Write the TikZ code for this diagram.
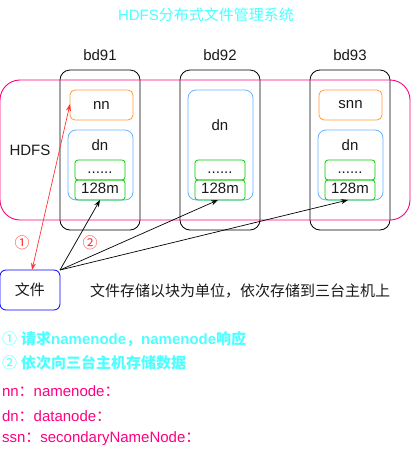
\documentclass[tikz,border=0pt]{standalone}
\usepackage{fontspec}
\setmainfont{Liberation Sans}
\newfontfamily\cjk{Noto Sans CJK SC}
\usetikzlibrary{arrows.meta}
\definecolor{cyantxt}{HTML}{4DFFFF}
\definecolor{pinkc}{HTML}{FF0080}
\definecolor{orangec}{HTML}{FF9933}
\definecolor{bluec}{HTML}{66B2FF}
\definecolor{greenc}{HTML}{00CC00}
\definecolor{filec}{HTML}{0000FF}
\definecolor{redc}{HTML}{FF3333}
\definecolor{txtc}{HTML}{1A1A1A}
\begin{document}
\begin{tikzpicture}[x=1pt,y=-1pt,
  font=\fontsize{15}{18}\selectfont,
  every node/.style={inner sep=0pt, outer sep=0pt, text=txtc},
  hostbox/.style={draw=black, line width=0.8pt, rounded corners=10pt, minimum width=80pt, minimum height=160pt},
  hdfsbox/.style={draw=pinkc, line width=0.9pt, rounded corners=20pt, minimum width=410pt, minimum height=140pt},
  nnbox/.style={draw=orangec, line width=0.8pt, rounded corners=5pt, minimum width=63pt, minimum height=30pt},
  dnbox/.style={draw=bluec, line width=0.8pt, rounded corners=8pt, minimum width=65pt},
  blkbox/.style={draw=greenc, line width=0.8pt, rounded corners=3pt, minimum width=50pt, minimum height=20pt, text height=10.5pt, text depth=3pt},
  filebox/.style={draw=filec, line width=0.8pt, rounded corners=6pt, minimum width=60pt, minimum height=40pt},
  redarrow/.style={draw=redc, line width=0.7pt, {Stealth[length=7pt,width=5pt]}-{Stealth[length=7pt,width=5pt]}},
  blkarrow/.style={draw=black, line width=0.7pt, -{Stealth[length=7pt,width=5pt]}},
  legcyan/.style={anchor=west, text=cyantxt, font=\fontsize{15}{18}\selectfont\bfseries},
  legpink/.style={anchor=west, text=pinkc}
]
\useasboundingbox (0,0) rectangle (419,453);

\node[text=cyantxt] (title) at (206,15) {HDFS{\cjk 分布式文件管理系统}};

\node (l1) at (100,55) {bd91};
\node (l2) at (220,55) {bd92};
\node (l3) at (350,55) {bd93};

\node[hostbox] (h1) at (100,150) {};
\node[hostbox] (h2) at (220,150) {};
\node[hostbox] (h3) at (350,150) {};

\node[hdfsbox] (hdfs) at (205,150) {};
\node (hdfslbl) at (30,150) {HDFS};

\node[nnbox] (nn) at (101.5,105) {nn};
\node[nnbox] (snn) at (350.5,105) {snn};

\node[dnbox, minimum height=70pt] (d1) at (100.5,165) {};
\node[dnbox, minimum height=110pt] (d2) at (220.5,145) {};
\node[dnbox, minimum height=70pt] (d3) at (350.5,165) {};
\node (d1l) at (100,145) {dn};
\node (d2l) at (220,125) {dn};
\node (d3l) at (350,145) {dn};

\node[blkbox] (g1) at (100,170) {......};
\node[blkbox] (b1) at (100,190) {128m};
\node[blkbox] (g2) at (220,170) {......};
\node[blkbox] (b2) at (220,190) {128m};
\node[blkbox] (g3) at (350,170) {......};
\node[blkbox] (b3) at (350,190) {128m};

\node[filebox] (wj) at (30,290) {\cjk 文件};
\node[anchor=west] (desc) at (90,291) {\cjk 文件存储以块为单位，依次存储到三台主机上};

\draw[redarrow] ([xshift=2pt]wj.north) -- ([yshift=1pt]nn.west);
\draw[blkarrow] (wj.north east) -- (b1.south);
\draw[blkarrow] (wj.north east) -- ([xshift=-2pt]b2.south);
\draw[blkarrow] (wj.north east) -- ([xshift=-2pt]b3.south);

\node[text=redc] (c1) at (22,243) {\cjk ①};
\node[text=redc] (c2) at (90,243) {\cjk ②};

\node[legcyan] (lg1) at (2,339) {{\cjk\mdseries ①} {\cjk 请求}namenode{\cjk ，}namenode{\cjk 响应}};
\node[legcyan] (lg2) at (2,363) {{\cjk\mdseries ②} {\cjk 依次向三台主机存储数据}};
\node[legpink] (lg3) at (2,391) {nn{\cjk ：}namenode{\cjk ：}};
\node[legpink] (lg4) at (2,416) {dn{\cjk ：}datanode{\cjk ：}};
\node[legpink] (lg5) at (2,439) {ssn{\cjk ：}secondaryNameNode{\cjk ：}};
\end{tikzpicture}
\end{document}
